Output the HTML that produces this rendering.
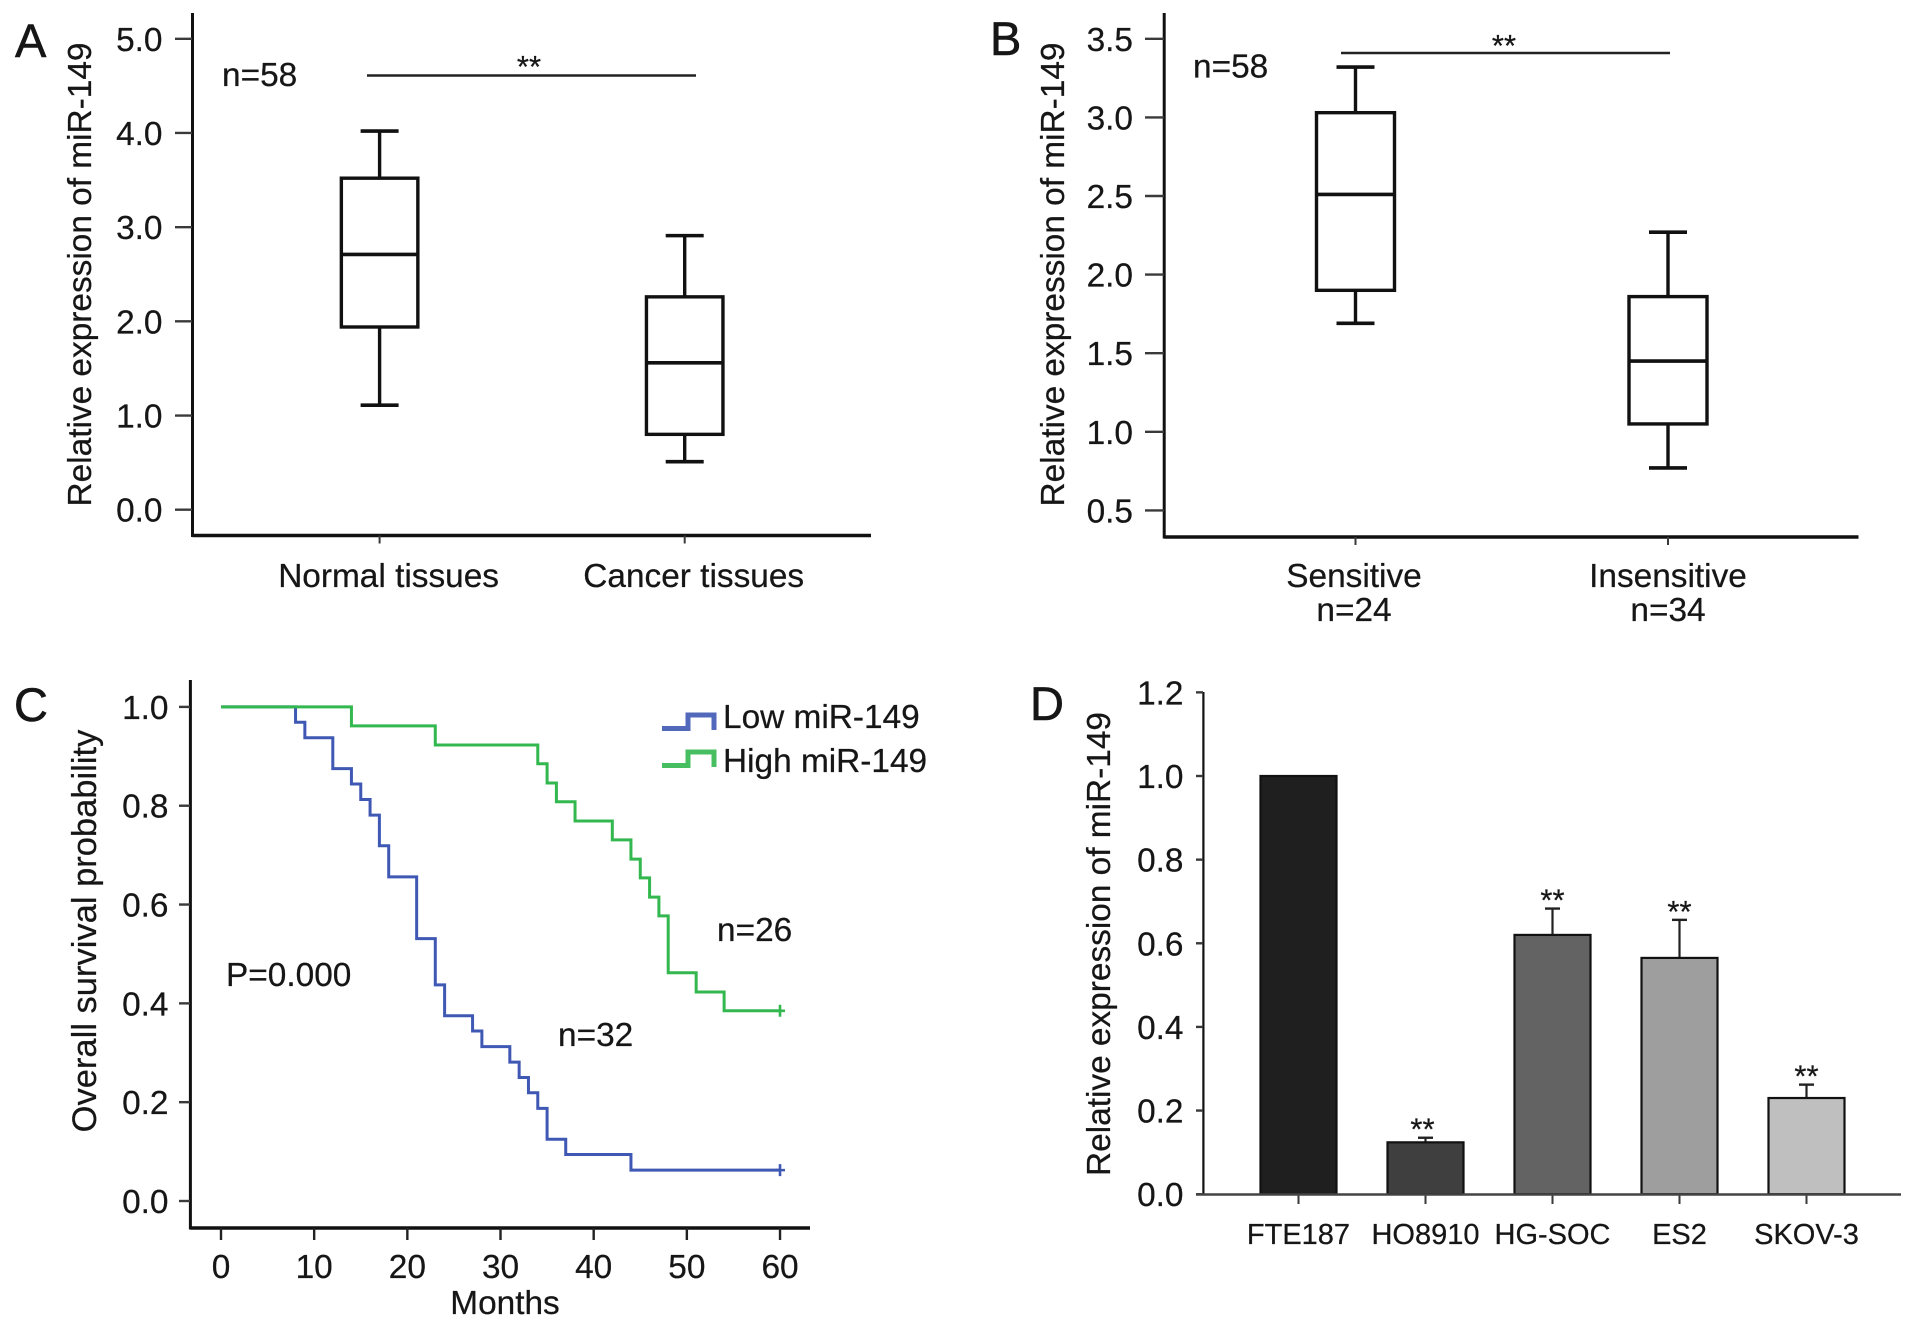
<!DOCTYPE html>
<html lang="en">
<head>
<meta charset="utf-8">
<title>miR-149 expression figure</title>
<style>
html,body{margin:0;padding:0;background:#fff;width:1913px;height:1328px;overflow:hidden}
svg{display:block}
text{font-family:"Liberation Sans",sans-serif;fill:#161616;font-size:33.4px;stroke:#161616;stroke-width:.25px}
.letter{font-size:47px;stroke-width:.6px}
.stars{font-size:31px}
.small{font-size:29px}
.title-c{font-size:34.5px}
</style>
</head>
<body>
<svg id="figure" width="1913" height="1328" viewBox="0 0 1913 1328" xmlns="http://www.w3.org/2000/svg">
  <g id="panelA">
    <text class="letter" x="15" y="57">A</text>
    <text transform="translate(91,274.5) rotate(-90)" text-anchor="middle">Relative expression of miR-149</text>
    <text x="222" y="86">n=58</text>
  </g>
  <g id="panelB">
    <text class="letter" x="990" y="55">B</text>
    <text transform="translate(1064,274.5) rotate(-90)" text-anchor="middle">Relative expression of miR-149</text>
    <text x="1193" y="77.5">n=58</text>
  </g>
  <g id="panelC">
    <text class="letter" x="14" y="721">C</text>
    <text class="title-c" transform="translate(96,931) rotate(-90)" text-anchor="middle">Overall survival probability</text>
    <text x="505" y="1314" text-anchor="middle">Months</text>
    <text x="226" y="986">P=0.000</text>
    <text x="717" y="941">n=26</text>
    <text x="558" y="1046">n=32</text>
    <text x="723" y="728">Low miR-149</text>
    <text x="723" y="772">High miR-149</text>
  </g>
  <g id="panelD">
    <text class="letter" x="1030" y="720">D</text>
    <text transform="translate(1110,944) rotate(-90)" text-anchor="middle">Relative expression of miR-149</text>
  </g>
</svg>
<script>
// ---------- Panel A data ----------
const boxACategories = ["Normal tissues", "Cancer tissues"];
const boxAWhiskerHigh = [4.02, 2.91];
const boxAQ3 = [3.52, 2.26];
const boxAMedian = [2.71, 1.56];
const boxAQ1 = [1.94, 0.80];
const boxAWhiskerLow = [1.11, 0.51];
const boxATicks = ["0.0", "1.0", "2.0", "3.0", "4.0", "5.0"];

// ---------- Panel B data ----------
const boxBCategories = [["Sensitive", "n=24"], ["Insensitive", "n=34"]];
const boxBWhiskerHigh = [3.32, 2.27];
const boxBQ3 = [3.03, 1.86];
const boxBMedian = [2.51, 1.45];
const boxBQ1 = [1.90, 1.05];
const boxBWhiskerLow = [1.69, 0.77];
const boxBTicks = ["0.5", "1.0", "1.5", "2.0", "2.5", "3.0", "3.5"];

// ---------- Panel C data ----------
const lowMonths = [0, 8, 9, 12, 14, 15, 16, 17, 18, 21, 23, 24, 27, 28, 31, 32, 33, 34, 35, 37, 44, 60];
const lowSurvival = [1, 0.969, 0.9375, 0.875, 0.844, 0.8125, 0.781, 0.719, 0.656, 0.531, 0.4375, 0.375, 0.344, 0.3125, 0.281, 0.25, 0.219, 0.1875, 0.125, 0.094, 0.0625, 0.0625];
const highMonths = [0, 14, 23, 34, 35, 36, 38, 42, 44, 45, 46, 47, 48, 51, 54, 60];
const highSurvival = [1, 0.9615, 0.923, 0.885, 0.846, 0.808, 0.769, 0.731, 0.692, 0.654, 0.615, 0.577, 0.462, 0.423, 0.385, 0.385];
const survivalYTicks = ["0.0", "0.2", "0.4", "0.6", "0.8", "1.0"];
const survivalXTicks = ["0", "10", "20", "30", "40", "50", "60"];

// ---------- Panel D data ----------
const barCategories = ["FTE187", "HO8910", "HG-SOC", "ES2", "SKOV-3"];
const barValues = [1.0, 0.124, 0.62, 0.565, 0.23];
const barErrorTops = [1.0, 0.135, 0.683, 0.656, 0.262];
const barSignificance = ["", "**", "**", "**", "**"];
const barTicks = ["0.0", "0.2", "0.4", "0.6", "0.8", "1.0", "1.2"];
const barFills = ["#1f1f1f", "#3f3f3f", "#636363", "#9e9e9e", "#bfbfbf"];

const NS = "http://www.w3.org/2000/svg";
const INK = "#111";

function mk(parent, tag, attrs, content) {
  const e = document.createElementNS(NS, tag);
  for (const k in attrs) e.setAttribute(k, attrs[k]);
  if (content !== undefined) e.textContent = content;
  parent.appendChild(e);
  return e;
}

function line(parent, x1, y1, x2, y2, w, color) {
  return mk(parent, "line", { x1: x1, y1: y1, x2: x2, y2: y2, stroke: color || INK, "stroke-width": w });
}

function drawAxisLines(g, prefix, axisX, topY, axisY, rightX, leftX) {
  const yAxis = line(g, axisX, topY, axisX, axisY + 1.5, 3);
  
  
  const xAxis = line(g, leftX, axisY, rightX, axisY, 3.4);
  
  
}

function drawYTicks(g, prefix, labels, yOf, tickLeft, tickRight, labelRight) {
  labels.forEach(function (label) {
    const v = parseFloat(label);
    const t = line(g, tickLeft, yOf(v), tickRight, yOf(v), 2.4, "#3a3a3a");
    
    
    const l = mk(g, "text", { x: labelRight, y: yOf(v) + 12, "text-anchor": "end" }, label);
    
    
  });
}

function drawBoxes(g, prefix, cfg) {
  cfg.q3.forEach(function (_, i) {
    const x = cfg.xOf(i);
    const hw = cfg.boxWidth / 2;
    const box = mk(g, "g", {});
    
    
    const whiskerUp = line(box, x, cfg.yOf(cfg.high[i]), x, cfg.yOf(cfg.q3[i]), 3.4);
    
    
    const whiskerDown = line(box, x, cfg.yOf(cfg.q1[i]), x, cfg.yOf(cfg.low[i]), 3.4);
    
    
    const capUp = line(box, x - 19, cfg.yOf(cfg.high[i]), x + 19, cfg.yOf(cfg.high[i]), 3.6);
    
    
    const capDown = line(box, x - 19, cfg.yOf(cfg.low[i]), x + 19, cfg.yOf(cfg.low[i]), 3.6);
    
    
    const rect = mk(box, "rect", {
      x: x - hw, y: cfg.yOf(cfg.q3[i]), width: cfg.boxWidth,
      height: cfg.yOf(cfg.q1[i]) - cfg.yOf(cfg.q3[i]),
      fill: "#fff", stroke: INK, "stroke-width": 3.4
    });
    
    
    const med = line(box, x - hw, cfg.yOf(cfg.median[i]), x + hw, cfg.yOf(cfg.median[i]), 3.6);
    
    
    const tick = line(g, x, cfg.axisY, x, cfg.axisY + 8, 2, "#3a3a3a");
    
    
  });
}

function drawSignificance(g, prefix, x1, x2, y, starX, starY) {
  const s = line(g, x1, y, x2, y, 2.4, "#222");
  
  
  const st = mk(g, "text", { x: starX, y: starY, "text-anchor": "middle", class: "stars" }, "**");
  
  
}

// ---------- Panel A ----------
(function () {
  const g = document.getElementById("panelA");
  const yOf = function (v) { return 509.7 - v * 94.18; };
  const xOf = function (i) { return 379.6 + i * 305.1; };
  drawAxisLines(g, "panel-a", 192.5, 13, 535.5, 871, 192.5);
  drawYTicks(g, "panel-a", boxATicks, yOf, 175, 192, 162.5);
  drawBoxes(g, "panel-a", {
    xOf: xOf, yOf: yOf, boxWidth: 76.5, axisY: 535.5,
    high: boxAWhiskerHigh, q3: boxAQ3, median: boxAMedian, q1: boxAQ1, low: boxAWhiskerLow
  });
  boxACategories.forEach(function (label, i) {
    const t = mk(g, "text", { x: xOf(i) + 9, y: 587, "text-anchor": "middle" }, label);
    
    
  });
  drawSignificance(g, "panel-a", 367, 696, 75.5, 529, 77);
})();

// ---------- Panel B ----------
(function () {
  const g = document.getElementById("panelB");
  const yOf = function (v) { return 510.4 - (v - 0.5) * 157.2; };
  const xOf = function (i) { return 1355.5 + i * 312.5; };
  drawAxisLines(g, "panel-b", 1164.2, 13, 537, 1858.5, 1164.2);
  drawYTicks(g, "panel-b", boxBTicks, yOf, 1145, 1164, 1133);
  drawBoxes(g, "panel-b", {
    xOf: xOf, yOf: yOf, boxWidth: 78, axisY: 537,
    high: boxBWhiskerHigh, q3: boxBQ3, median: boxBMedian, q1: boxBQ1, low: boxBWhiskerLow
  });
  boxBCategories.forEach(function (pair, i) {
    const t = mk(g, "text", { x: xOf(i) - (i === 0 ? 1.5 : 0), y: 587, "text-anchor": "middle" }, pair[0]);
    
    
    const n = mk(g, "text", { x: xOf(i) - (i === 0 ? 1.5 : 0), y: 621, "text-anchor": "middle" }, pair[1]);
    
    
  });
  drawSignificance(g, "panel-b", 1341, 1670, 53, 1504, 56);
})();

// ---------- Panel C ----------
(function () {
  const g = document.getElementById("panelC");
  const yOf = function (v) { return 1201 - v * 494.1; };
  const xOf = function (m) { return 221 + m * 9.317; };
  const BLUE = "#3f58b4";
  const GREEN = "#33b84f";
  drawAxisLines(g, "panel-c", 190.4, 680, 1228, 810, 190.4);
  drawYTicks(g, "panel-c", survivalYTicks, yOf, 179, 190, 168.5);
  survivalXTicks.forEach(function (label) {
    const m = parseFloat(label);
    const t = line(g, xOf(m), 1228, xOf(m), 1240, 2.4, "#222");
    
    
    const l = mk(g, "text", { x: xOf(m), y: 1278, "text-anchor": "middle" }, label);
    
    
  });
  function stepPath(months, surv) {
    let d = "M" + xOf(months[0]) + " " + yOf(surv[0]);
    for (let i = 1; i < months.length; i++) {
      d += "H" + xOf(months[i]);
      d += "V" + yOf(surv[i]);
    }
    return d;
  }
  const lowCurve = mk(g, "path", { d: stepPath(lowMonths, lowSurvival), fill: "none", stroke: BLUE, "stroke-width": 3 });
  
  
  const highCurve = mk(g, "path", { d: stepPath(highMonths, highSurvival), fill: "none", stroke: GREEN, "stroke-width": 3 });
  
  
  function censorPath(m, s) {
    const x = xOf(m);
    const y = yOf(s);
    return "M" + x + " " + (y - 6) + "V" + (y + 6) + "M" + (x - 5) + " " + y + "H" + (x + 5);
  }
  const lastLow = lowMonths.length - 1;
  const lastHigh = highMonths.length - 1;
  const lowCensor = mk(g, "path", { d: censorPath(lowMonths[lastLow], lowSurvival[lastLow]), fill: "none", stroke: BLUE, "stroke-width": 2.6 });
  
  
  const highCensor = mk(g, "path", { d: censorPath(highMonths[lastHigh], highSurvival[lastHigh]), fill: "none", stroke: GREEN, "stroke-width": 2.6 });
  
  
  const lowSwatch = mk(g, "path", { d: "M662 728.5H688V715H714V730", fill: "none", stroke: BLUE, "stroke-width": 5, opacity: 0.9 });
  
  
  const highSwatch = mk(g, "path", { d: "M662 765.5H688V752H714V767", fill: "none", stroke: GREEN, "stroke-width": 5, opacity: 0.9 });
  
  
})();

// ---------- Panel D ----------
(function () {
  const g = document.getElementById("panelD");
  const yOf = function (v) { return 1194.2 - v * 418.2; };
  const xOf = function (i) { return 1298.5 + i * 127; };
  const barWidth = 76;
  const yAxis = line(g, 1203.4, 692, 1203.4, 1195, 2.2);
  
  
  drawYTicks(g, "panel-d", barTicks, yOf, 1196, 1203, 1183.5);
  barValues.forEach(function (v, i) {
    const x = xOf(i);
    if (barErrorTops[i] > v) {
      const e = line(g, x, yOf(barErrorTops[i]), x, yOf(v), 2.2, "#222");
      
      
      const c = line(g, x - 7.5, yOf(barErrorTops[i]), x + 7.5, yOf(barErrorTops[i]), 2.4, "#222");
      
      
    }
    const r = mk(g, "rect", {
      x: x - barWidth / 2, y: yOf(v), width: barWidth, height: yOf(0) - yOf(v),
      fill: barFills[i], stroke: "#111", "stroke-width": 2.2
    });
    
    
    if (barSignificance[i]) {
      const s = mk(g, "text", { x: x - 3 * (i === 1 ? 1 : 0), y: yOf(barErrorTops[i]) + 2, "text-anchor": "middle", class: "stars" }, barSignificance[i]);
      
      
    }
    const t = line(g, x, 1194, x, 1204, 2, "#3a3a3a");
    
    
    const l = mk(g, "text", { x: x, y: 1244, "text-anchor": "middle", class: "small" }, barCategories[i]);
    
    
  });
  const xAxis = line(g, 1196, 1194.5, 1901, 1194.5, 2.6, "#444");
  
  
})();
</script>
</body>
</html>
